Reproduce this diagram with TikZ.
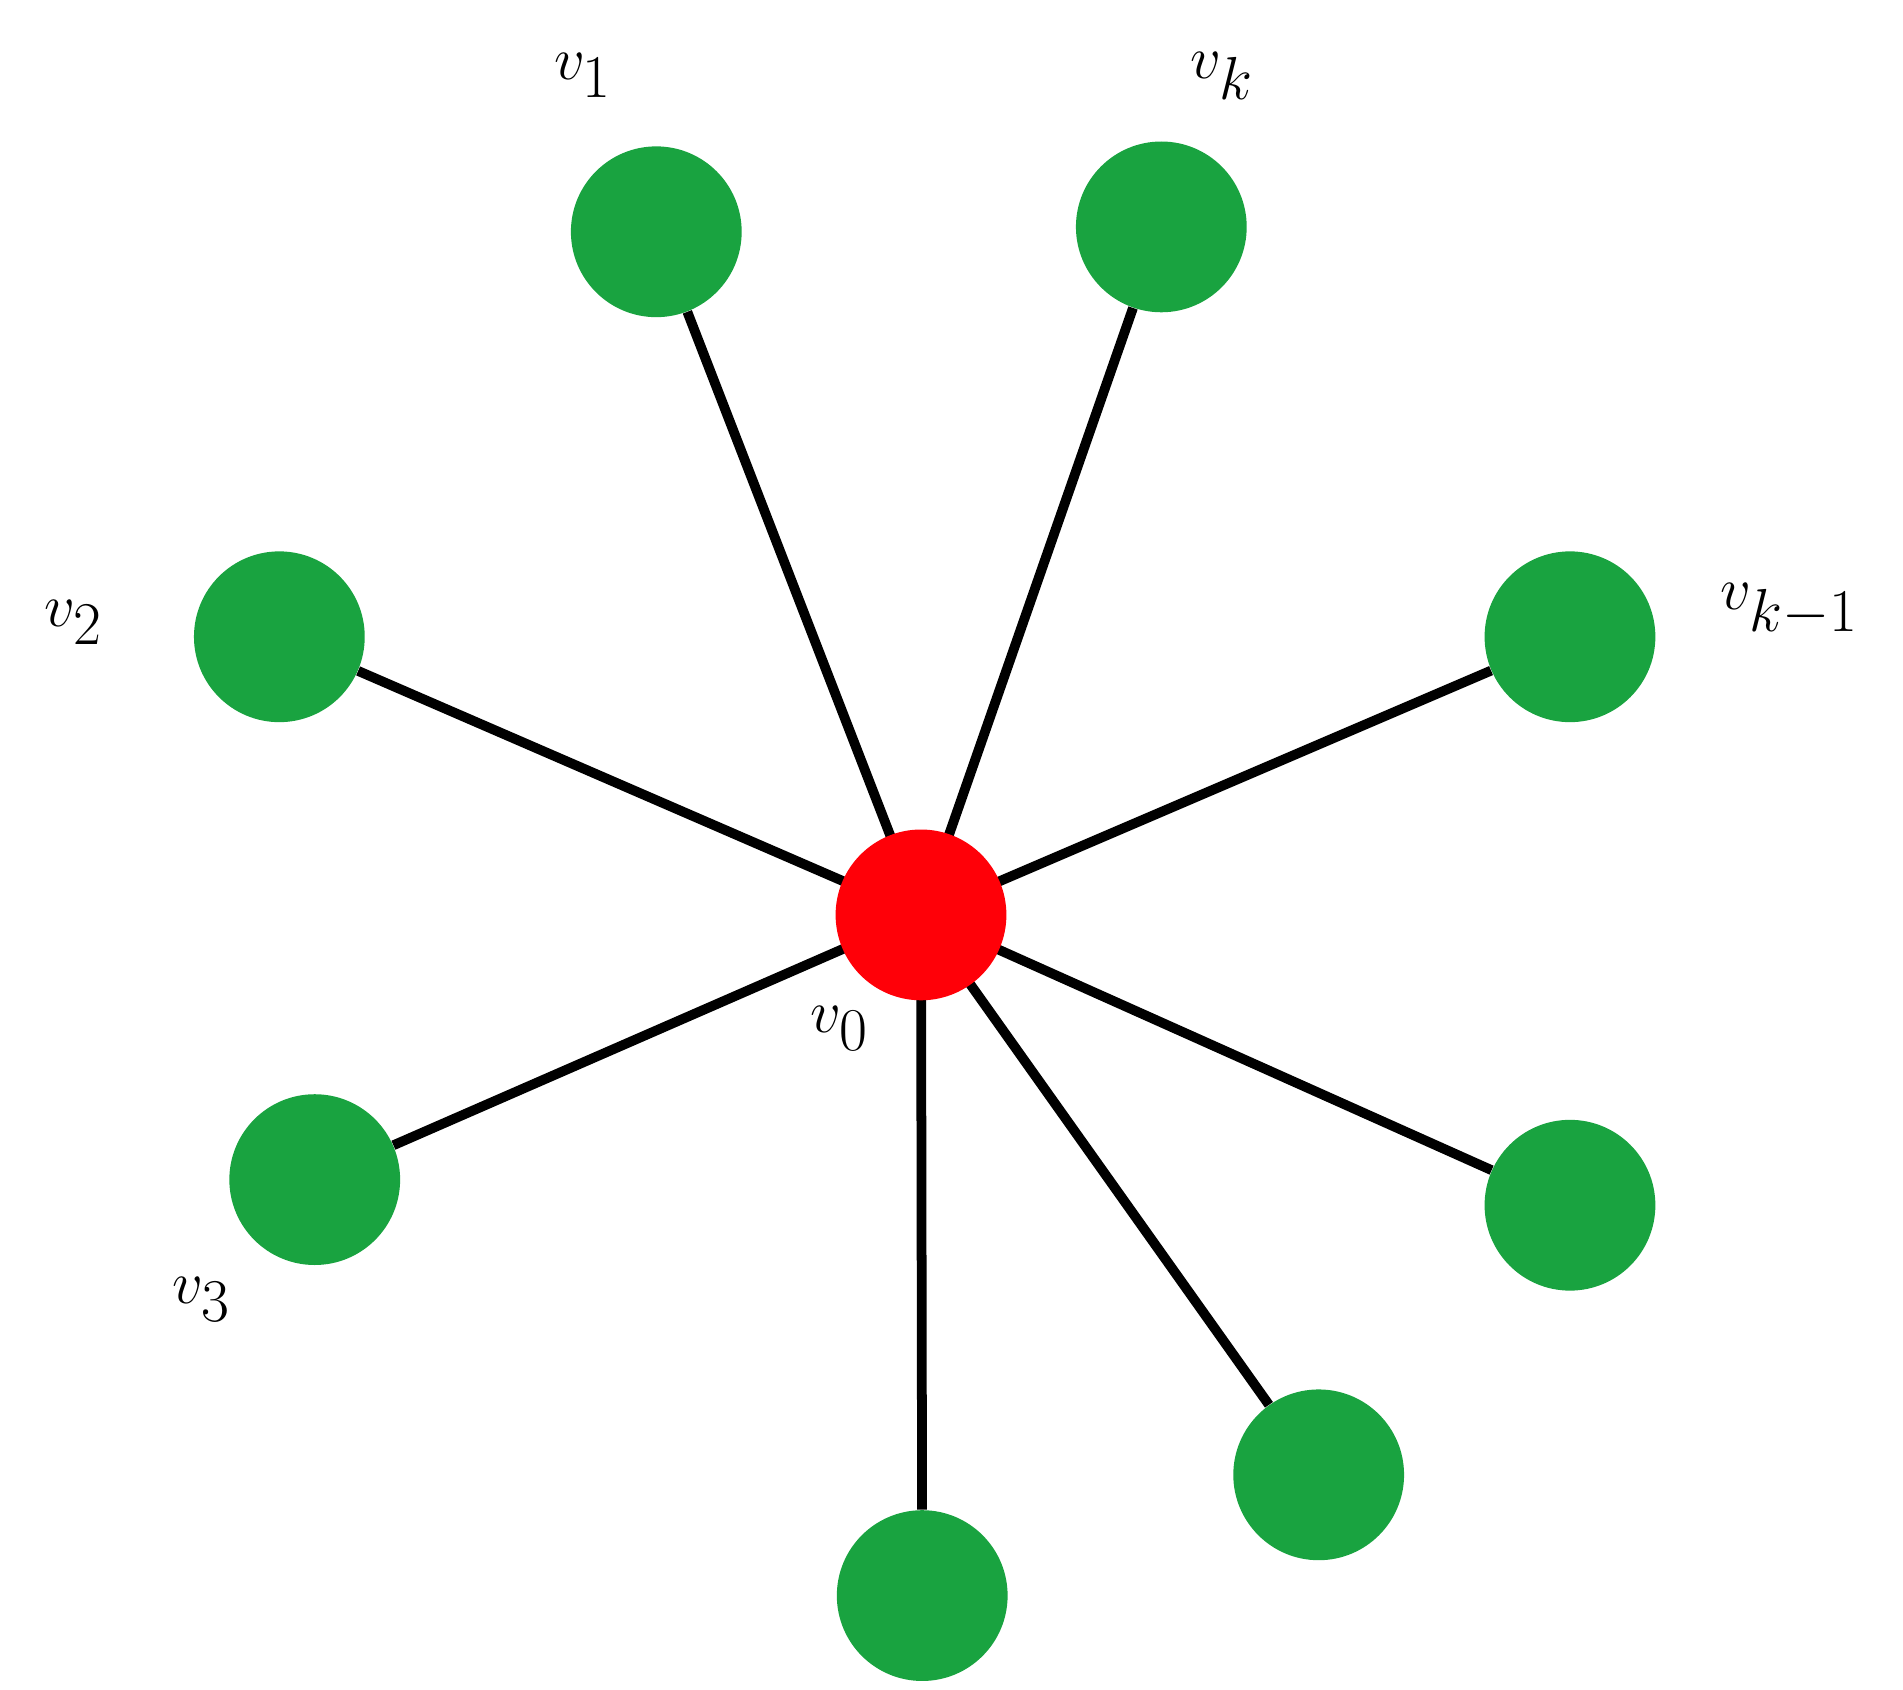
\documentclass[tikz,border=0pt]{standalone}
\begin{document}
\begin{tikzpicture}[x=0.5pt,y=-0.5pt,
  g/.style={circle,fill={rgb,255:red,25;green,163;blue,64},minimum size=70pt,inner sep=0},
  r/.style={circle,fill={rgb,255:red,255;green,0;blue,8},minimum size=70pt,inner sep=0},
  e/.style={line width=4pt},
  lab/.style={font=\fontsize{44}{48}\selectfont}]
\useasboundingbox (0,0) rectangle (1560,1385);
\node[g] (v1) at (538,190) {};
\node[g] (vk) at (952,186) {};
\node[g] (v2) at (229,522) {};
\node[g] (vk1) at (1287,522) {};
\node[g] (v3) at (258,967) {};
\node[g] (a) at (1287,988) {};
\node[g] (b) at (1081,1209) {};
\node[g] (c) at (756,1308) {};
\foreach \n in {v1,vk,v2,vk1,v3,a,b,c} \draw[e] (755,750) -- (\n);
\node[r] (v0) at (755,750) {};
\node[lab] (l1) at (478,62) {$v_1$};
\node[lab] (lk) at (1002,62) {$v_k$};
\node[lab] (l2) at (60,510) {$v_2$};
\node[lab] (lk1) at (1467,500) {$v_{k-1}$};
\node[lab] (l3) at (165,1065) {$v_3$};
\node[lab] (l0) at (688,843) {$v_0$};
\end{tikzpicture}
\end{document}
